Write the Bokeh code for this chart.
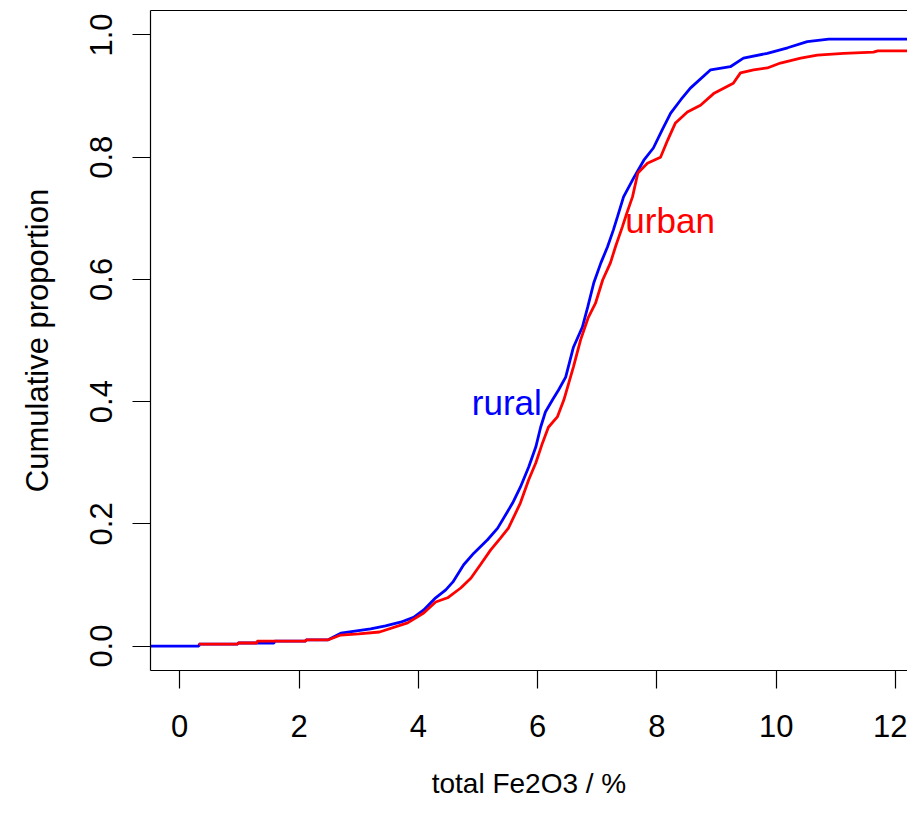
from bokeh.plotting import figure
from bokeh.models import Range1d, FixedTicker, PrintfTickFormatter, LinearAxis, ColumnDataSource
from bokeh.core.properties import value
from bokeh.embed import file_html
from bokeh.resources import INLINE

# ECDF of total Fe2O3 (%)
rural_x = [-0.6, 0.32, 0.33, 0.97, 0.98, 1.58, 1.59, 2.11, 2.12, 2.48, 2.70, 3.20, 3.45, 3.70,
           3.92, 4.09, 4.29, 4.46, 4.58, 4.76, 4.93, 5.16, 5.33, 5.58, 5.71, 5.85, 5.97,
           6.05, 6.13, 6.25, 6.35, 6.47, 6.60, 6.75, 6.84, 6.94, 7.06, 7.17, 7.27, 7.34,
           7.44, 7.61, 7.78, 7.94, 8.09, 8.23, 8.40, 8.56, 8.90, 9.23, 9.45, 9.85, 10.19,
           10.52, 10.88, 12.6]
rural_p = [0.000, 0.000, 0.003, 0.003, 0.005, 0.005, 0.008, 0.008, 0.010, 0.010, 0.021, 0.028,
           0.033, 0.039, 0.047, 0.059, 0.079, 0.092, 0.105, 0.133, 0.152, 0.174, 0.193, 0.234,
           0.260, 0.293, 0.326, 0.358, 0.383, 0.403, 0.419, 0.440, 0.489, 0.522, 0.555, 0.594,
           0.627, 0.653, 0.681, 0.703, 0.735, 0.766, 0.795, 0.815, 0.845, 0.872, 0.894, 0.913,
           0.943, 0.948, 0.962, 0.970, 0.979, 0.989, 0.993, 0.993]

urban_x = [0.32, 0.97, 0.98, 1.29, 1.30, 2.11, 2.12, 2.48, 2.70, 3.00, 3.35, 3.82, 4.09, 4.29,
           4.49, 4.71, 4.88, 5.04, 5.21, 5.38, 5.51, 5.55, 5.71, 5.85, 5.97, 6.08, 6.18, 6.33,
           6.44, 6.52, 6.60, 6.72, 6.85, 6.97, 7.09, 7.22, 7.31, 7.42, 7.50, 7.59, 7.68, 7.84,
           8.06, 8.18, 8.31, 8.51, 8.73, 8.95, 9.28, 9.40, 9.62, 9.85, 10.07, 10.41, 10.69,
           11.13, 11.63, 11.70, 12.6]
urban_p = [0.003, 0.003, 0.005, 0.005, 0.008, 0.008, 0.010, 0.010, 0.018, 0.020, 0.023, 0.038,
           0.054, 0.072, 0.079, 0.095, 0.111, 0.133, 0.157, 0.177, 0.193, 0.201, 0.234, 0.272,
           0.300, 0.332, 0.358, 0.375, 0.403, 0.430, 0.457, 0.501, 0.538, 0.561, 0.599, 0.627,
           0.655, 0.686, 0.710, 0.735, 0.774, 0.790, 0.800, 0.828, 0.856, 0.874, 0.885, 0.904,
           0.921, 0.938, 0.943, 0.946, 0.954, 0.962, 0.967, 0.970, 0.972, 0.974, 0.974]

label_x = [6.07, 7.47]
label_y = [0.398, 0.697]
label_text = ["rural", "urban"]

x_ticks = [0, 2, 4, 6, 8, 10, 12]
y_ticks = [0.0, 0.2, 0.4, 0.6, 0.8, 1.0]

FONT = "Liberation Sans"

p = figure(width=907, height=812, output_backend="svg", toolbar_location=None,
           x_range=Range1d(-0.49, 12.2), y_range=Range1d(-0.04, 1.04),
           min_border_left=150, min_border_top=10, min_border_right=0, min_border_bottom=142)
p.outline_line_color = None
p.xgrid.visible = False
p.ygrid.visible = False
p.background_fill_color = "white"
p.border_fill_color = "white"

p.line(rural_x, rural_p, line_color="#0000FF", line_width=2.8)
p.line(urban_x, urban_p, line_color="#FF0000", line_width=2.8)

src = ColumnDataSource(dict(x=[label_x[0]], y=[label_y[0]], t=[label_text[0]]))
p.text("x", "y", text="t", source=src, text_color="#0000FF", text_align="right",
       text_baseline="middle", text_font=value(FONT), text_font_size="35px")
src2 = ColumnDataSource(dict(x=[label_x[1]], y=[label_y[1]], t=[label_text[1]]))
p.text("x", "y", text="t", source=src2, text_color="#FF0000", text_align="left",
       text_baseline="middle", text_font=value(FONT), text_font_size="35px")

for ax in (p.xaxis[0], p.yaxis[0]):
    ax.axis_line_color = "black"
    ax.axis_line_width = 1.2
    ax.major_tick_line_color = "black"
    ax.major_tick_line_width = 1.2
    ax.major_tick_out = 18
    ax.major_tick_in = 0
    ax.minor_tick_line_color = None
    ax.major_label_text_font = FONT
    ax.major_label_text_font_size = "31px"
    ax.major_label_text_color = "black"
    ax.axis_label_text_font = FONT
    ax.axis_label_text_font_style = "normal"
    ax.axis_label_text_color = "black"

p.xaxis[0].ticker = FixedTicker(ticks=x_ticks)
p.xaxis[0].axis_label = "total Fe2O3 / %"
p.xaxis[0].axis_label_text_font_size = "28px"
p.xaxis[0].major_label_standoff = 26
p.xaxis[0].axis_label_standoff = 28

p.yaxis[0].ticker = FixedTicker(ticks=y_ticks)
p.yaxis[0].formatter = PrintfTickFormatter(format="%.1f")
p.yaxis[0].major_label_orientation = "vertical"
p.yaxis[0].axis_label = "Cumulative proportion"
p.yaxis[0].axis_label_text_font_size = "31px"
p.yaxis[0].major_label_standoff = 20
p.yaxis[0].axis_label_standoff = 33

top = LinearAxis(ticker=FixedTicker(ticks=[]), major_tick_line_color=None,
                 minor_tick_line_color=None, major_label_text_font_size="0px",
                 major_label_standoff=0, axis_line_color="black", axis_line_width=1.2)
p.add_layout(top, "above")

open("out.html", "w").write(file_html(p, INLINE))
